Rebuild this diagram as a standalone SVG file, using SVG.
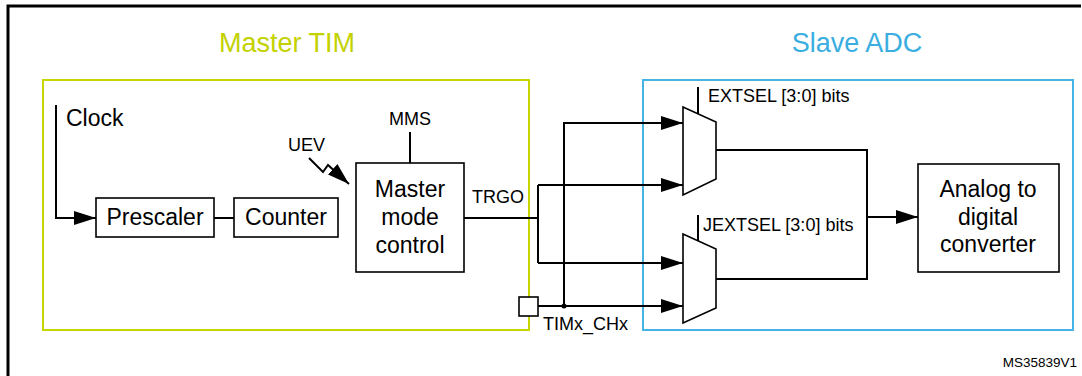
<svg xmlns="http://www.w3.org/2000/svg" width="1082" height="376" viewBox="0 0 1082 376">
<style>
text{font-family:"Liberation Sans",Arial,sans-serif;fill:#000}
.t23{font-size:23px}
.t18{font-size:18px}
.title{font-size:27px;text-anchor:middle}
.c{text-anchor:middle}
.box{fill:#fff;stroke:#000;stroke-width:1.6}
.ln{fill:none;stroke:#000;stroke-width:2}
</style>
<defs>
<marker id="ah" markerWidth="22" markerHeight="14" refX="22" refY="7" orient="auto" markerUnits="userSpaceOnUse">
<path d="M0,0 L22,7 L0,14 Z" fill="#000"/>
</marker>
</defs>
<rect width="1082" height="376" fill="#fff"/>
<path d="M8,376 V6 H1081" fill="none" stroke="#000" stroke-width="3"/>

<g id="master-tim">
<rect x="43" y="80" width="486" height="250" fill="none" stroke="#c6d400" stroke-width="2"/>
<text class="title" x="287" y="52" style="fill:#c3d100">Master TIM</text>
</g>
<g id="slave-adc">
<rect x="643" y="80" width="430" height="250" fill="none" stroke="#45b3e3" stroke-width="2"/>
<text class="title" x="857" y="52" style="fill:#3aaee0">Slave ADC</text>
</g>

<g id="clock"><text class="t23" x="66" y="126">Clock</text></g>
<g id="prescaler"><rect class="box" x="96" y="198" width="118" height="39"/><text class="t23 c" x="155" y="225">Prescaler</text></g>
<g id="counter"><rect class="box" x="234" y="198" width="104" height="39"/><text class="t23 c" x="286" y="225">Counter</text></g>
<g id="master-mode-control"><rect class="box" x="356" y="163" width="108" height="109"/>
<text class="t23 c" x="410" y="197">Master</text><text class="t23 c" x="410" y="225">mode</text><text class="t23 c" x="410" y="253">control</text></g>
<g id="mms"><text class="t18 c" x="410" y="125">MMS</text></g>
<g id="uev"><text class="t18" x="288" y="151">UEV</text></g>
<g id="trgo"><text class="t18" x="472" y="203">TRGO</text></g>
<g id="timx-chx"><rect class="box" x="519" y="297" width="19" height="19"/><text class="t18" x="543" y="330">TIMx_CHx</text></g>
<g id="mux-ext"><path class="box" d="M683,107 L716,122 L716,179 L683,195 Z"/><text class="t18" x="708" y="102">EXTSEL [3:0] bits</text></g>
<g id="mux-jext"><path class="box" d="M683,234 L716,249 L716,308 L683,323 Z"/><text class="t18" x="703" y="231">JEXTSEL [3:0] bits</text></g>
<g id="adc"><rect class="box" x="918" y="164" width="141" height="108"/>
<text class="t23 c" x="988" y="197">Analog to</text><text class="t23 c" x="988" y="225">digital</text><text class="t23 c" x="988" y="252">converter</text></g>
<g id="ref"><text x="1077" y="367" style="font-size:13.5px;text-anchor:end">MS35839V1</text></g>

<g id="connectors">
<path class="ln" d="M56,105 V218 H96" marker-end="url(#ah)"/>
<path class="ln" d="M214,218 H234"/>
<path class="ln" d="M410,132 V163"/>
<path class="ln" d="M309,158 L323,172 L328,165 L349,184" marker-end="url(#ah)"/>
<path class="ln" d="M464,218 H538"/>
<path class="ln" d="M538,185 V263"/>
<path class="ln" d="M538,185 H683" marker-end="url(#ah)"/>
<path class="ln" d="M538,263 H683" marker-end="url(#ah)"/>
<path class="ln" d="M538,306 H683" marker-end="url(#ah)"/>
<path class="ln" d="M564,306 V123 H683" marker-end="url(#ah)"/>
<circle cx="564" cy="306" r="2.5" fill="#000"/>
<path class="ln" d="M698,87 V114"/>
<path class="ln" d="M698,215 V241"/>
<path class="ln" d="M716,150 H867 V279 H716"/>
<path class="ln" d="M867,217 H918" marker-end="url(#ah)"/>
</g>
</svg>
